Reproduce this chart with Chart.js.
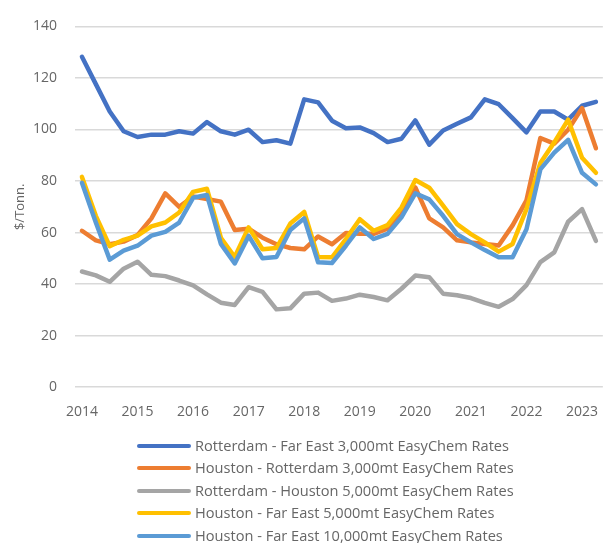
<!DOCTYPE html>
<html>
<head>
<meta charset="utf-8">
<script src="https://cdn.jsdelivr.net/npm/chart.js@4/dist/chart.umd.min.js"></script>
<style>
  html, body { margin: 0; padding: 0; background: #ffffff; overflow: hidden; }
  #wrap { position: relative; width: 605px; height: 543px; overflow: hidden; }
  #chartBox { position: absolute; left: 0; top: 0; width: 612px; height: 446px; }
  #legend { position: absolute; left: 137px; top: 434px; font-family: "Open Sans", sans-serif; font-size: 14.6px; color: #666666; }
  .item { height: 22.4px; line-height: 22.4px; white-space: nowrap; }
  .swatch { display: inline-block; width: 54px; height: 4px; border-radius: 2px; vertical-align: middle; margin-right: 4px; position: relative; top: -1px; }
</style>
</head>
<body>
<div id="wrap">
  <div id="chartBox"><canvas id="chartRates"></canvas></div>
  <div id="legend"></div>
</div>
<script>
// quarterly data, 2014 Q1 .. 2023 Q2
var years = ["2014", "2015", "2016", "2017", "2018", "2019", "2020", "2021", "2022", "2023"];
var yTicks = [0, 20, 40, 60, 80, 100, 120, 140];

var rotterdamFarEast3k = [128.2, 117.6, 107, 99.3, 97.1, 98, 98, 99.3, 98.4, 102.9,
  99.3, 98, 99.9, 95.1, 95.8, 94.5, 111.7, 110.5, 103.4, 100.5,
  100.8, 98.6, 95.1, 96.4, 103.5, 94.1, 99.6, 102.2, 104.7, 111.7,
  109.8, 104.4, 98.9, 107, 107, 103.8, 109.2, 110.7];
var houstonRotterdam3k = [60.7, 57, 55.5, 56.5, 59, 65.5, 75.2, 70, 74, 73,
  72, 61, 61.5, 58, 55.5, 54, 53.5, 58.5, 55.5, 59.8,
  59.5, 59.5, 61.5, 67, 77.5, 65.5, 62, 57, 56.2, 55.6,
  55, 62.8, 72.5, 96.7, 94.5, 99.9, 108.3, 92.7];
var rotterdamHouston5k = [44.9, 43.4, 40.9, 46, 48.7, 43.6, 43.1, 41.4, 39.5, 36,
  32.8, 31.9, 38.8, 37, 30.2, 30.6, 36.3, 36.7, 33.5, 34.4,
  35.9, 35, 33.7, 38.2, 43.3, 42.7, 36.3, 35.7, 34.6, 32.7,
  31.2, 34.2, 39.6, 48.5, 52.3, 64.2, 69.1, 56.8];
var houstonFarEast5k = [81.6, 66.5, 54.7, 57.2, 58.8, 62.4, 63.9, 67.8, 75.8, 77,
  58, 50.5, 62, 53.5, 54, 63.5, 68, 50.5, 50.4, 57.5,
  65.2, 60.7, 62.9, 69.7, 80.4, 77.4, 70.5, 63.3, 59.4, 56.2,
  52.6, 55.6, 69.1, 87, 95, 103.8, 89, 83.2];
var houstonFarEast10k = [79.3, 63.9, 49.5, 53, 54.9, 58.8, 60.3, 63.9, 73.5, 74.6,
  55.6, 48, 58.7, 50, 50.5, 61, 65.5, 48.5, 48.2, 54.9,
  62, 57.5, 59.5, 65.9, 75.2, 72.9, 66.5, 59.4, 56.2, 53.2,
  50.4, 50.4, 61.3, 84.5, 91, 96, 83.2, 78.7];

var quarters = [];
years.forEach(function (y) {
  for (var q = 1; q <= 4; q++) quarters.push(y + " Q" + q);
});
quarters = quarters.slice(0, rotterdamFarEast3k.length);

var textColor = "#666666";
var fontFamily = '"Open Sans", sans-serif';

function series(label, data, color, order) {
  return {
    label: label,
    data: data,
    borderColor: color,
    backgroundColor: color,
    borderWidth: 4.5,
    pointRadius: 0,
    tension: 0,
    borderJoinStyle: "round",
    borderCapStyle: "round",
    order: order
  };
}

var ctx = document.getElementById("chartRates");
var chartRates = new Chart(ctx, {
  type: "line",
  data: {
    labels: quarters,
    datasets: [
      series("Rotterdam - Far East 3,000mt EasyChem Rates", rotterdamFarEast3k, "#4472C4", 5),
      series("Houston - Rotterdam 3,000mt EasyChem Rates", houstonRotterdam3k, "#ED7D31", 4),
      series("Rotterdam - Houston 5,000mt EasyChem Rates", rotterdamHouston5k, "#A5A5A5", 3),
      series("Houston - Far East 5,000mt EasyChem Rates", houstonFarEast5k, "#FFC000", 2),
      series("Houston - Far East 10,000mt EasyChem Rates", houstonFarEast10k, "#5B9BD5", 1)
    ]
  },
  options: {
    responsive: true,
    maintainAspectRatio: false,
    animation: false,
    layout: {
      padding: { top: 20, right: 6, bottom: 10, left: 8 }
    },
    plugins: {
      legend: { display: false },
      title: { display: false },
      tooltip: { enabled: false }
    },
    scales: {
      x: {
        offset: true,
        grid: { display: false, drawTicks: false },
        border: { display: false },
        ticks: {
          autoSkip: false,
          maxRotation: 0,
          padding: 16,
          color: textColor,
          font: { family: fontFamily, size: 14 },
          callback: function (val, idx) {
            return idx % 4 === 0 ? quarters[idx].slice(0, 4) : "";
          }
        }
      },
      y: {
        min: yTicks[0],
        max: yTicks[yTicks.length - 1],
        afterFit: function (scale) { scale.width = 67; },
        afterBuildTicks: function (scale) {
          scale.ticks = yTicks.map(function (v) { return { value: v }; });
        },
        grid: { color: "#d9d9d9", lineWidth: 1.5, drawTicks: false },
        border: { display: false },
        ticks: {
          padding: 18,
          color: textColor,
          font: { family: fontFamily, size: 14 }
        },
        title: {
          display: true,
          text: "$/Tonn.",
          color: textColor,
          font: { family: fontFamily, size: 13 },
          padding: { top: 4, bottom: 4 }
        }
      }
    }
  }
});

// html legend, one item per row
var legendBox = document.getElementById("legend");
chartRates.data.datasets.forEach(function (ds) {
  var row = document.createElement("div");
  row.className = "item";
  var sw = document.createElement("span");
  sw.className = "swatch";
  sw.style.background = ds.borderColor;
  row.appendChild(sw);
  row.appendChild(document.createTextNode(ds.label));
  legendBox.appendChild(row);
});
</script>
</body>
</html>
